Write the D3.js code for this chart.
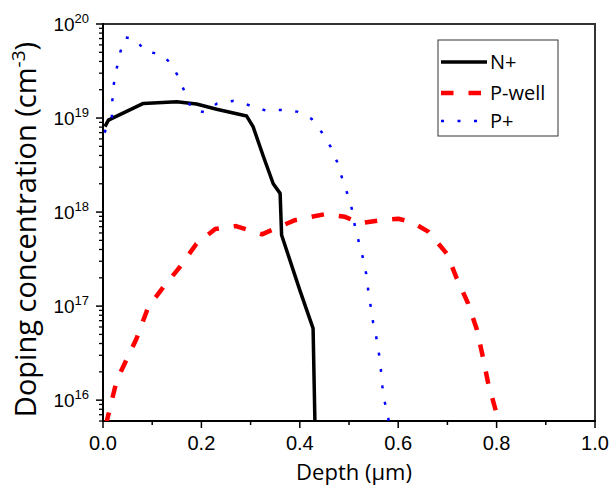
<!DOCTYPE html>
<meta charset="utf-8">
<style>
body { margin: 0; background: #fff; }
.tick-x { font: 20px "Liberation Sans", Arial, sans-serif; }
.tick-y { font: 19px "Liberation Sans", Arial, sans-serif; }
.title { font: 22px "Open Sans", sans-serif; }
.legend text { font: 20px "Open Sans", sans-serif; }
</style>
<body>
<script src="https://d3js.org/d3.v7.min.js"></script>
<script>

// depth (um) and doping (cm^-3)
var nDepth = [0.004, 0.011, 0.082, 0.15, 0.19, 0.231, 0.292, 0.305, 0.326, 0.346, 0.36, 0.363, 0.40, 0.427, 0.431];
var nConc  = [8.1e18, 9.5e18, 1.43e19, 1.49e19, 1.41e19, 1.24e19, 1.05e19, 8.1e18, 3.9e18, 2.0e18, 1.58e18, 5.7e17, 1.48e17, 5.8e16, 5e15];

var pwDepth = [0.006, 0.028, 0.068, 0.092, 0.123, 0.156, 0.19, 0.228, 0.27, 0.323, 0.39, 0.451, 0.492, 0.522, 0.559, 0.6, 0.628, 0.661, 0.699, 0.719, 0.742, 0.76, 0.772, 0.783, 0.80, 0.806];
var pwConc  = [5.5e15, 1.63e16, 4.5e16, 9.8e16, 1.6e17, 2.6e17, 4.6e17, 6.6e17, 7.1e17, 5.8e17, 8.2e17, 9.5e17, 8.9e17, 7.6e17, 8.1e17, 8.5e17, 7.8e17, 6.2e17, 3.6e17, 1.97e17, 1.07e17, 5.6e16, 2.9e16, 1.5e16, 7.2e15, 5.5e15];

var ppDepth = [0.003, 0.018, 0.019, 0.022, 0.028, 0.035, 0.045, 0.067, 0.085, 0.117, 0.14, 0.155, 0.168, 0.18, 0.207, 0.232, 0.265, 0.297, 0.331, 0.363, 0.395, 0.424, 0.445, 0.463, 0.476, 0.486, 0.497, 0.506, 0.512, 0.52, 0.528, 0.535, 0.539, 0.544, 0.549, 0.556, 0.561, 0.565, 0.568, 0.573, 0.58, 0.582];
var ppConc  = [7e18, 1.03e19, 1.55e19, 2.3e19, 3.4e19, 5.0e19, 7.2e19, 6.9e19, 5.1e19, 4.8e19, 3.75e19, 2.6e19, 1.79e19, 1.24e19, 1.15e19, 1.43e19, 1.52e19, 1.37e19, 1.2e19, 1.22e19, 1.17e19, 9.8e18, 7e18, 4.9e18, 3.4e18, 2.3e18, 1.55e18, 1.07e18, 7.1e17, 4.8e17, 3.3e17, 2.2e17, 1.48e17, 1e17, 6.7e16, 4.5e16, 3.1e16, 2.05e16, 1.38e16, 9.4e15, 6.3e15, 5.5e15];

var seriesNames = ["N+", "P-well", "P+"];
var xTicks = [0, 0.2, 0.4, 0.6, 0.8, 1.0];
var xMinor = [0.1, 0.3, 0.5, 0.7, 0.9];
var yTickExp = [16, 17, 18, 19, 20];

var W = 611, H = 486;
var margin = {top: 24, right: 16, bottom: 65, left: 103};
var width = W - margin.left - margin.right,
    height = H - margin.top - margin.bottom;

var x = d3.scaleLinear().domain([0, 1]).range([0, width]);
var y = d3.scaleLog().domain([6e15, 1e20]).range([height, 0]);

var svg = d3.select("body").append("svg")
    .attr("width", W).attr("height", H)
  .append("g")
    .attr("transform", "translate(" + margin.left + "," + margin.top + ")");

svg.append("clipPath").attr("id", "clip")
  .append("rect").attr("width", width).attr("height", height);

// frame top / right
svg.append("path")
    .attr("d", "M0,0H" + width + "V" + height)
    .attr("fill", "none").attr("stroke", "#333").attr("stroke-width", 2);

// x axis
var gx = svg.append("g").attr("transform", "translate(0," + height + ")");
gx.append("line").attr("x1", -1).attr("x2", width + 1)
    .attr("stroke", "#000").attr("stroke-width", 2);
gx.selectAll(".maj").data(xTicks).enter().append("line")
    .attr("x1", d => x(d)).attr("x2", d => x(d)).attr("y1", 0).attr("y2", 7)
    .attr("stroke", "#000").attr("stroke-width", 1.5);
gx.selectAll(".min").data(xMinor).enter().append("line")
    .attr("x1", d => x(d)).attr("x2", d => x(d)).attr("y1", 0).attr("y2", 4)
    .attr("stroke", "#000").attr("stroke-width", 1.5);
gx.selectAll("text").data(xTicks).enter().append("text")
    .attr("class", "tick-x")
    .attr("x", d => x(d)).attr("y", 29)
    .attr("text-anchor", "middle")
    .text(d => d.toFixed(1));

// y axis
var gy = svg.append("g");
gy.append("line").attr("y1", -1).attr("y2", height + 1)
    .attr("stroke", "#000").attr("stroke-width", 2);
var yMinor = y.ticks().filter(d => Math.abs(Math.log10(d) - Math.round(Math.log10(d))) > 1e-6);
gy.selectAll(".min").data(yMinor).enter().append("line")
    .attr("x1", -4).attr("x2", 0).attr("y1", d => y(d)).attr("y2", d => y(d))
    .attr("stroke", "#000").attr("stroke-width", 1.3);
gy.selectAll(".maj").data(yTickExp).enter().append("line")
    .attr("x1", -7).attr("x2", 0)
    .attr("y1", d => y(Math.pow(10, d))).attr("y2", d => y(Math.pow(10, d)))
    .attr("stroke", "#000").attr("stroke-width", 1.5);
var lab = gy.selectAll("text").data(yTickExp).enter().append("text")
    .attr("class", "tick-y")
    .attr("x", -14).attr("y", d => y(Math.pow(10, d)) + 7)
    .attr("text-anchor", "end");
lab.append("tspan").text("10");
lab.append("tspan").attr("dy", -8).attr("font-size", 13).text(d => d);

// titles
svg.append("text").attr("class", "title")
    .attr("x", width / 2 + 5).attr("y", height + 59)
    .attr("text-anchor", "middle").text("Depth (\u00b5m)");
var yt = svg.append("text").attr("class", "title")
    .attr("transform", "translate(-67," + (height / 2 + 7) + ") rotate(-90)")
    .attr("text-anchor", "middle").style("font-size", "29px");
yt.append("tspan").text("Doping concentration (cm");
yt.append("tspan").attr("dy", -11).style("font-size", "19px").text("-3");
yt.append("tspan").attr("dy", 11).text(")");

// curves
var line = d3.line().x(d => x(d[0])).y(d => y(d[1]));
var series = [
  {pts: d3.zip(nDepth, nConc), color: "#000", w: 3.5, dash: null},
  {pts: d3.zip(pwDepth, pwConc), color: "#ff0000", w: 4.5, dash: "12.5,15"},
  {pts: d3.zip(ppDepth, ppConc), color: "#0000ff", w: 2.5, dash: "3,13.5"}
];
var gc = svg.append("g").attr("clip-path", "url(#clip)");
series.forEach(function(s) {
  gc.append("path").datum(s.pts)
    .attr("d", line)
    .attr("fill", "none")
    .attr("stroke", s.color)
    .attr("stroke-width", s.w)
    .attr("stroke-linejoin", "round")
    .attr("stroke-dasharray", s.dash);
});

// legend
var lg = svg.append("g").attr("class", "legend")
    .attr("transform", "translate(" + (438 - margin.left) + "," + (40 - margin.top) + ")");
lg.append("rect").attr("width", 120).attr("height", 96)
    .attr("fill", "#fff").attr("stroke", "#333").attr("stroke-width", 1);
var rows = [22, 53, 81];
series.forEach(function(s, i) {
  lg.append("line")
    .attr("x1", 3).attr("x2", 49).attr("y1", rows[i]).attr("y2", rows[i])
    .attr("stroke", s.color).attr("stroke-width", s.w)
    .attr("stroke-dasharray", s.dash);
  lg.append("text").attr("x", 52).attr("y", rows[i] + 7).text(seriesNames[i]);
});

</script>
</body>
